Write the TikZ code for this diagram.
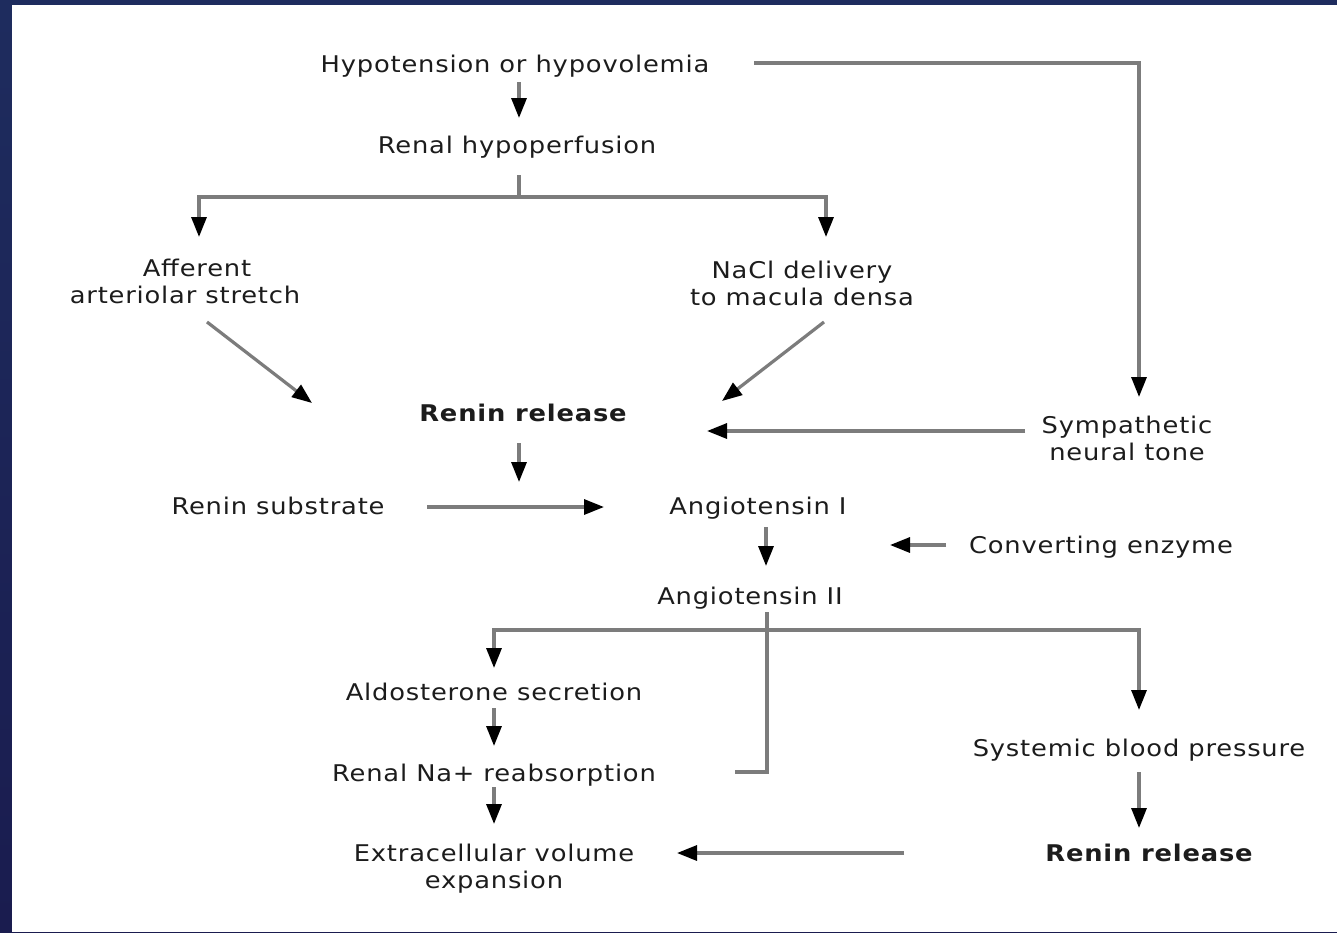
\documentclass[tikz,border=0pt]{standalone}
\usepackage{fontspec}
\setmainfont{DejaVu Sans}[LetterSpace=3.5,FakeStretch=1.12]
\usetikzlibrary{arrows.meta,calc}
\definecolor{frame}{HTML}{1E2C5E}
\definecolor{framebot}{HTML}{1A1C4F}
\definecolor{lncol}{HTML}{7C7C7C}
\definecolor{txt}{HTML}{1C1C1C}
\begin{document}
\begin{tikzpicture}[x=1pt,y=-1pt,
  lbl/.style={anchor=base,inner sep=0pt,text=txt,font=\fontsize{23}{27}\selectfont,align=center},
  bold/.style={lbl,font=\fontsize{23}{27}\selectfont\bfseries},
  ln/.style={draw=lncol,line width=3.2pt},
  arr/.style={ln,-{Triangle[width=15pt,length=20pt,color=black,fill=black]}}]
\useasboundingbox (0,0) rectangle (1337,932);
\shade[top color=frame,bottom color=framebot] (0,0) rectangle (1337,932);
\fill[white] (12,5) rectangle (1337,932);
% nodes
\node[lbl] (hyp) at (515,72) {Hypotension or hypovolemia};
\node[lbl] (renal) at (517,153) {Renal hypoperfusion};
\node[lbl] (aff) at (185,303) {\hspace*{24pt}Afferent\\arteriolar stretch};
\node[lbl] (nacl) at (802,305) {NaCl delivery\\to macula densa};
\node[bold] (renin) at (523,421) {Renin release};
\node[lbl] (symp) at (1127,460) {Sympathetic\\neural tone};
\node[lbl] (subs) at (278,514) {Renin substrate};
\node[lbl] (ang1) at (758,514) {Angiotensin I};
\node[lbl] (conv) at (1101,553) {Converting enzyme};
\node[lbl] (ang2) at (750,604) {Angiotensin II};
\node[lbl] (aldo) at (494,700) {Aldosterone secretion};
\node[lbl] (na) at (494,781) {Renal Na+ reabsorption};
\node[lbl] (ecv) at (494,888) {Extracellular volume\\expansion};
\node[lbl] (sbp) at (1139,756) {Systemic blood pressure};
\node[bold] (renin2) at (1149,861) {Renin release};
% connectors
\draw[arr] ($(hyp.base)+(4,10)$) -- ($(renal.base)+(2,-35)$);
\coordinate (rj) at ($(renal.base)+(2,44)$);
\draw[ln] ($(renal.base)+(2,22)$) -- (rj);
\draw[arr] (rj) -| ($(aff.base)+(14,-66)$);
\draw[arr] (rj) -| ($(nacl.base)+(24,-68)$);
\draw[arr] ($(aff.base)+(22,19)$) -- ($(renin.base)+(-211,-18)$);
\draw[arr] ($(nacl.base)+(22,17)$) -- ($(renin.base)+(199,-20)$);
\draw[arr] ($(hyp.base)+(239,-9)$) -| ($(symp.base)+(12,-63)$);
\draw[arr] ($(symp.base)+(-102,-29)$) -- ($(renin.base)+(184,10)$);
\draw[arr] ($(renin.base)+(-4,22)$) -- ($(ang1.base)+(-239,-32)$);
\draw[arr] ($(subs.base)+(149,-7)$) -- ($(ang1.base)+(-154,-7)$);
\draw[arr] ($(ang1.base)+(8,13)$) -- ($(ang2.base)+(16,-38)$);
\coordinate (ce) at ($(ang1.base)+(132,31)$);
\draw[arr] ($(conv.base)+(-155,-8)$) -- (ce);
\coordinate (aj) at ($(ang2.base)+(17,26)$);
\draw[ln] ($(ang2.base)+(17,8)$) |- ($(na.base)+(241,-9)$);
\draw[arr] (aj) -| ($(aldo.base)+(0,-32)$);
\draw[arr] (aj) -| ($(sbp.base)+(0,-46)$);
\draw[arr] ($(aldo.base)+(0,8)$) -- ($(na.base)+(0,-35)$);
\draw[arr] ($(na.base)+(0,6)$) -- ($(ecv.base)+(0,-64)$);
\draw[arr] ($(sbp.base)+(0,16)$) -- ($(renin2.base)+(-10,-33)$);
\draw[arr] ($(renin2.base)+(-245,-8)$) -- ($(ecv.base)+(183,-35)$);
\end{tikzpicture}
\end{document}
